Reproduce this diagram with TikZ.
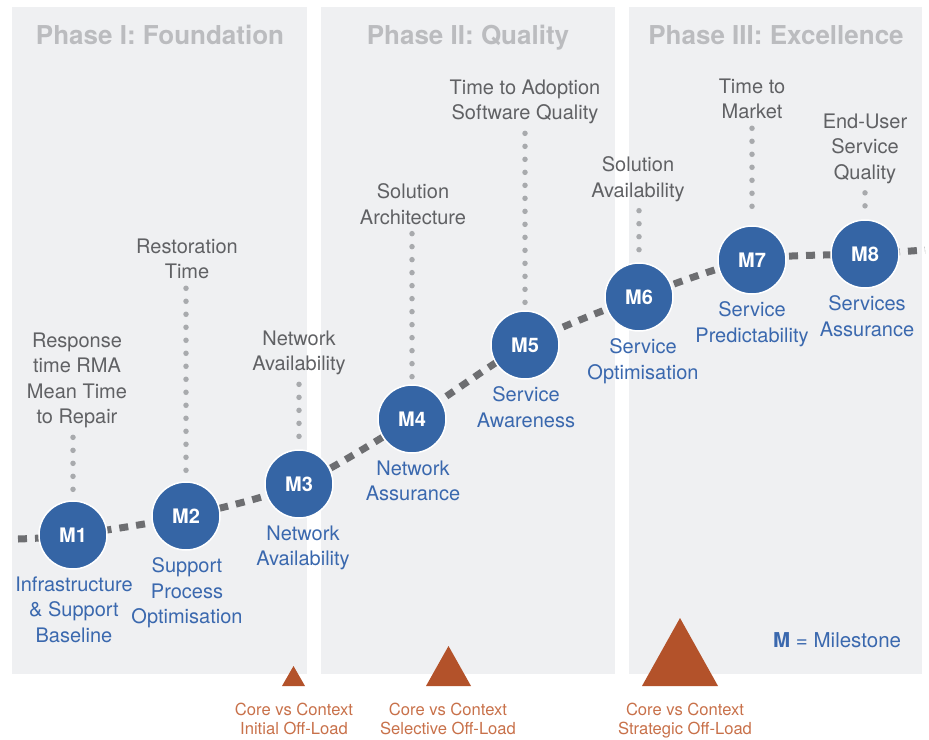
\documentclass[tikz,border=0pt]{standalone}
\usepackage{fontspec}
\setmainfont{TeX Gyre Heros}
\definecolor{panelgray}{HTML}{EFF0F2}
\definecolor{titlegray}{HTML}{BBBCBF}
\definecolor{labelgray}{HTML}{606164}
\definecolor{mblue}{HTML}{3565A5}
\definecolor{mbluetext}{HTML}{3A68AE}
\definecolor{trendgray}{HTML}{6D6E71}
\definecolor{dotgray}{HTML}{A8AAAD}
\definecolor{offred}{HTML}{B3522A}
\definecolor{offtextred}{HTML}{C8714A}
\begin{document}
\begin{tikzpicture}[x=1pt,y=-1pt,
    phase/.style={fill=panelgray},
    phasetitle/.style={anchor=base, inner sep=0, text=titlegray,
      font=\bfseries\fontsize{26}{30}\selectfont},
    milestone/.style={circle, fill=mblue, draw=white, line width=1.5pt,
      minimum size=68pt, inner sep=0, text=white,
      font=\bfseries\fontsize{20}{24}\selectfont},
    toplabel/.style={anchor=north, align=center, inner sep=0, text=labelgray,
      font=\fontsize{20}{25.5}\selectfont},
    botlabel/.style={toplabel, text=mbluetext},
    trend/.style={draw=trendgray, line width=7pt, dash pattern=on 9pt off 8pt},
    dotline/.style={draw=dotgray, line width=5.5pt, line cap=round,
      dash pattern=on 0pt off 13pt, shorten <=9pt, shorten >=7pt},
    offload/.style={fill=offred},
    offtext/.style={anchor=north, align=center, inner sep=0, text=offtextred,
      font=\fontsize{16.6}{19}\selectfont}]
  \useasboundingbox (0,0) rectangle (929,739);
  % phases
  \fill[phase] (12,7) rectangle (307,674);
  \fill[phase] (321,7) rectangle (615,674);
  \fill[phase] (629,7) rectangle (922,674);
  \node[phasetitle] (h1) at (160,44) {Phase I: Foundation};
  \node[phasetitle] (h2) at (468,44) {Phase II: Quality};
  \node[phasetitle] (h3) at (776,44) {Phase III: Excellence};
  % trend line
  \coordinate (p0) at (18,539);
  \coordinate (p1) at (73,535);
  \coordinate (p2) at (186,516);
  \coordinate (p3) at (299,484);
  \coordinate (p4) at (412,419);
  \coordinate (p5) at (525,345);
  \coordinate (p6) at (639,297);
  \coordinate (p7) at (752,260);
  \coordinate (p8) at (865,254);
  \coordinate (p9) at (925,250);
  \draw[trend] plot[smooth, tension=0.5] coordinates
    {(p0) (p1) (p2) (p3) (p4) (p5) (p6) (p7) (p8) (p9)};
  % milestones
  \node[milestone] (m1) at (p1) {M1};
  \node[milestone] (m2) at (p2) {M2};
  \node[milestone] (m3) at (p3) {M3};
  \node[milestone] (m4) at (p4) {M4};
  \node[milestone] (m5) at (p5) {M5};
  \node[milestone] (m6) at (p6) {M6};
  \node[milestone] (m7) at (p7) {M7};
  \node[milestone] (m8) at (p8) {M8};
  % measures
  \node[toplabel] (t1) at (77,332.5) {Response\\time RMA\\Mean Time\\to Repair};
  \node[toplabel] (t2) at (187,238.5) {Restoration\\Time};
  \node[toplabel] (t3) at (299,330.5) {Network\\Availability};
  \node[toplabel] (t4) at (413,183.5) {Solution\\Architecture};
  \node[toplabel] (t5) at (525,79.5) {Time to Adoption\\Software Quality};
  \node[toplabel] (t6) at (638,156.5) {Solution\\Availability};
  \node[toplabel] (t7) at (752,78.5) {Time to\\Market};
  \node[toplabel] (t8) at (865,113.5) {End-User\\Service\\Quality};
  \foreach \i in {1,...,8}
    \draw[dotline] (t\i.south -| m\i.north) -- (m\i.north);
  % outcomes
  \node[botlabel] (b1) at (74,576.5) {Infrastructure\\\& Support\\Baseline};
  \node[botlabel] (b2) at (187,557.5) {Support\\Process\\Optimisation};
  \node[botlabel] (b3) at (303,525.5) {Network\\Availability};
  \node[botlabel] (b4) at (413,460.5) {Network\\Assurance};
  \node[botlabel] (b5) at (526,386.5) {Service\\Awareness};
  \node[botlabel] (b6) at (643,338.5) {Service\\Optimisation};
  \node[botlabel] (b7) at (752,301.5) {Service\\Predictability};
  \node[botlabel] (b8) at (867,295.5) {Services\\Assurance};
  \node[anchor=base west, inner sep=0, text=mbluetext,
    font=\fontsize{20.5}{24}\selectfont] (key) at (773,647)
    {\textbf{M} = Milestone};
  % off-load
  \fill[offload] (293.5,666) -- (305,686) -- (282,686) -- cycle;
  \fill[offload] (448.5,646) -- (471,686) -- (426,686) -- cycle;
  \fill[offload] (680,618) -- (718,686) -- (642,686) -- cycle;
  \node[offtext] (o1) at (294,703) {Core vs Context\\Initial Off-Load};
  \node[offtext] (o2) at (448,703) {Core vs Context\\Selective Off-Load};
  \node[offtext] (o3) at (685,703) {Core vs Context\\Strategic Off-Load};
\end{tikzpicture}
\end{document}
